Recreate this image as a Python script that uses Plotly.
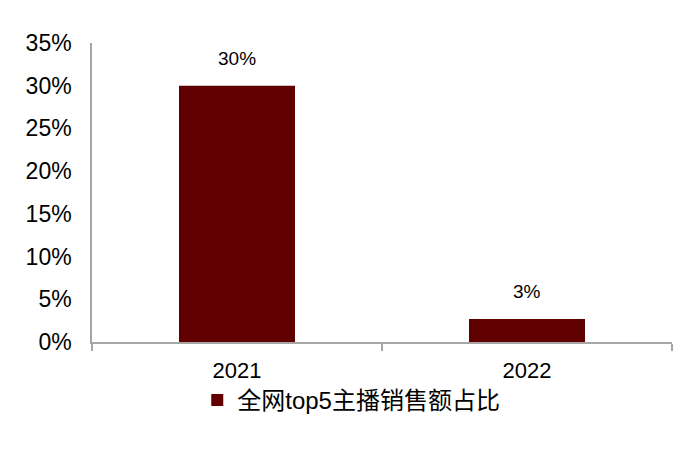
import plotly.graph_objects as go

years = ["2021", "2022"]
share = [0.30, 0.027]
share_labels = ["30%", "3%"]
series_name = "全网top5主播销售额占比"

font_family = "Liberation Sans, Arial, Noto Sans CJK SC"
bar_color = "#600000"
axis_color = "#a6a6a6"

fig = go.Figure()
fig.add_trace(go.Bar(x=years, y=share, name=series_name,
                     marker=dict(color=bar_color, line=dict(width=0))))

# value labels above bars (category index used as x position)
for i, (v, lab) in enumerate(zip(share, share_labels)):
    fig.add_annotation(x=i, y=v, xref="x", yref="y", text=lab, showarrow=False,
                       yanchor="bottom", yshift=15,
                       font=dict(size=19, color="black"))

fig.update_layout(
    width=700, height=453,
    margin=dict(l=84, r=36, t=35, b=119),
    paper_bgcolor="white", plot_bgcolor="white",
    font=dict(family=font_family, color="black"),
    bargap=0.6,
    showlegend=True,
    legend=dict(orientation="h", x=0.447, xanchor="center", y=-0.195, yanchor="middle",
                font=dict(size=24), bgcolor="rgba(0,0,0,0)"),
)
fig.update_xaxes(
    type="category", range=[-0.5, 1.5],
    showline=True, linecolor=axis_color, linewidth=1.5,
    ticks="outside", tickson="boundaries", ticklen=7, tickcolor=axis_color, tickwidth=1.5,
    tickfont=dict(size=22), showgrid=False, ticklabelstandoff=8,
)
fig.update_yaxes(
    range=[0, 0.35], dtick=0.05, tickformat=".0%",
    showline=True, linecolor=axis_color, linewidth=1.5,
    ticks="", showgrid=False, zeroline=False,
    tickfont=dict(size=23), ticklabelstandoff=14,
)

fig.write_html("out.html")
